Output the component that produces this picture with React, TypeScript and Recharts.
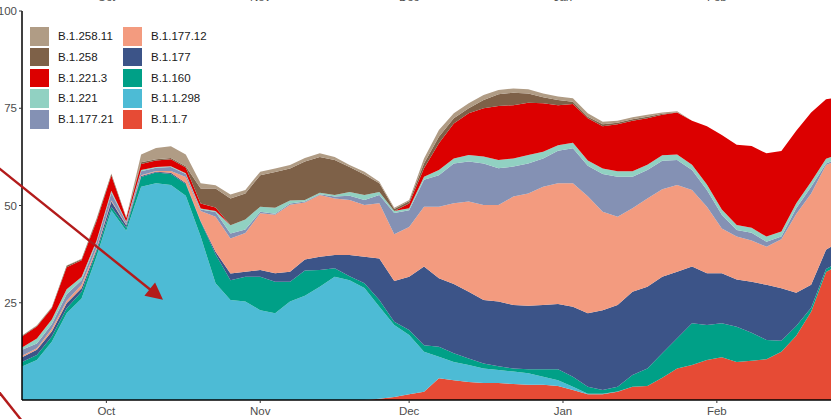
import { AreaChart, Area, XAxis, YAxis, Legend } from "recharts";

const FONT = '"Liberation Sans", Arial, sans-serif';

// sample dates (every 3 days), 2020-09-14 .. 2021-02-24
const dates = [
  "2020-09-14", "2020-09-17", "2020-09-20", "2020-09-23", "2020-09-26", "2020-09-29",
  "2020-10-02", "2020-10-05", "2020-10-08", "2020-10-11", "2020-10-14", "2020-10-17",
  "2020-10-20", "2020-10-23", "2020-10-26", "2020-10-29", "2020-11-01", "2020-11-04",
  "2020-11-07", "2020-11-10", "2020-11-13", "2020-11-16", "2020-11-19", "2020-11-22",
  "2020-11-25", "2020-11-28", "2020-12-01", "2020-12-04", "2020-12-07", "2020-12-10",
  "2020-12-13", "2020-12-16", "2020-12-19", "2020-12-22", "2020-12-25", "2020-12-28",
  "2020-12-31", "2021-01-03", "2021-01-06", "2021-01-09", "2021-01-12", "2021-01-15",
  "2021-01-18", "2021-01-21", "2021-01-24", "2021-01-27", "2021-01-30", "2021-02-02",
  "2021-02-05", "2021-02-08", "2021-02-11", "2021-02-14", "2021-02-17", "2021-02-20",
  "2021-02-23", "2021-02-24",
];

const monthStarts = ["2020-10-01", "2020-11-01", "2020-12-01", "2021-01-01", "2021-02-01"];
const monthLabels = ["Oct", "Nov", "Dec", "Jan", "Feb"];
const yTicks = [25, 50, 75, 100];

// share of sequences per lineage (%), bottom of the stack first
const b117 = [
  0, 0, 0, 0, 0, 0, 0, 0, 0, 0, 0, 0, 0, 0, 0, 0, 0, 0, 0, 0, 0, 0, 0, 0,
  0.3, 0.8, 1.5, 2.1, 5.6, 5.1, 4.6, 4.4, 4.4, 4.1, 3.9, 3.9, 3.6, 2.6, 1.5, 1.5,
  2.1, 3.4, 3.6, 5.7, 8.1, 9.0, 10.3, 11.0, 9.8, 10.1, 10.5, 12.4, 16.5, 22.7, 32.9, 33.6,
];
const b11298 = [
  8.6, 10.3, 15.0, 22.3, 26.1, 36.8, 48.8, 43.5, 54.8, 55.7, 55.3, 52.5, 42.0, 30.0,
  25.7, 25.3, 23.1, 22.3, 25.3, 26.8, 29.1, 31.7, 30.8, 28.8, 23.7, 18.5, 15.2, 10.3,
  5.5, 4.7, 4.4, 3.7, 3.3, 3.2, 3.0, 2.1, 1.5, 0.8, 0.1, 0.1, 0.1, 0, 0, 0, 0, 0, 0,
  0, 0, 0, 0, 0, 0, 0, 0, 0,
];
const b160 = [
  1.2, 1.3, 1.3, 1.3, 1.7, 1.3, 0.9, 0.8, 2.5, 2.8, 2.8, 3.0, 3.8, 7.5, 5.1, 6.4,
  8.6, 8.1, 5.1, 6.5, 4.3, 2.2, 1.0, 1.2, 1.7, 0.8, 1.3, 1.7, 2.6, 2.2, 1.7, 1.3,
  1.0, 0.8, 1.0, 1.9, 2.8, 2.6, 1.8, 1.0, 1.2, 3.0, 4.5, 6.3, 7.8, 10.7, 9.0, 8.7,
  9.0, 7.2, 4.9, 2.8, 2.5, 1.0, 0.8, 0.8,
];
const b177 = [
  1.2, 1.3, 1.3, 1.3, 0.9, 0.5, 1.3, 0.6, 0.3, 0.2, 0.3, 0.3, 0.2, 0.6, 1.7, 1.3,
  1.7, 2.2, 2.6, 2.8, 3.4, 3.4, 5.5, 6.8, 10.7, 10.5, 13.7, 20.2, 17.6, 17.8, 17.1, 16.3,
  16.6, 16.3, 16.3, 16.5, 16.8, 18.0, 18.9, 20.5, 21.0, 21.4, 21.0, 19.7, 17.1, 14.6, 13.3, 12.9,
  12.2, 13.1, 14.2, 13.5, 8.6, 5.9, 4.9, 5.0,
];
const b17712 = [
  0.4, 0.4, 0.7, 0.6, 0.9, 0.5, 0.3, 0.2, 0.2, 0.2, 0.5, 1.5, 2.6, 9.0, 9.0, 9.9,
  14.6, 15.0, 17.2, 14.7, 15.9, 14.5, 14.1, 13.3, 14.2, 12.0, 12.8, 15.4, 18.4, 20.8, 23.2, 24.4,
  24.8, 27.9, 28.9, 30.4, 31.0, 31.7, 30.1, 25.3, 22.7, 21.5, 22.7, 22.5, 22.3, 19.7, 17.1, 11.5,
  11.0, 10.6, 9.8, 12.6, 20.2, 23.5, 21.8, 21.5,
];
const b17721 = [
  1.5, 1.2, 1.2, 1.7, 1.2, 1.3, 2.0, 0.6, 1.0, 0.8, 1.0, 0.8, 0.4, 1.2, 1.3, 0.9,
  0.4, 0.3, 0.3, 0.2, 0.2, 0.5, 1.1, 1.3, 2.1, 5.5, 4.3, 6.9, 8.1, 10.2, 10.3, 10.7,
  9.5, 7.7, 7.7, 7.3, 8.4, 9.0, 7.8, 9.7, 10.3, 8.1, 7.3, 7.3, 6.4, 5.1, 4.3, 3.5,
  1.7, 2.0, 1.3, 0.7, 1.5, 1.7, 0.4, 0.4,
];
const b221 = [
  0.6, 1.3, 1.2, 1.3, 0.8, 0.5, 0.5, 0.2, 0.3, 0.2, 0.2, 0.2, 0.2, 0.3, 2.1, 2.6,
  1.3, 1.5, 0.8, 0.4, 0.4, 0.4, 1.0, 1.3, 0.8, 0.5, 0.5, 0.8, 1.3, 1.3, 1.7, 1.8,
  2.1, 2.1, 2.2, 1.7, 1.4, 1.4, 1.4, 1.4, 1.4, 1.4, 1.4, 1.4, 1.4, 1.4, 1.4, 1.4,
  1.3, 1.3, 1.3, 1.3, 1.3, 1.3, 1.2, 1.2,
];
const b2213 = [
  2.8, 3.1, 2.9, 5.6, 4.3, 5.0, 3.9, 0.8, 1.6, 1.7, 1.8, 1.5, 1.3, 0.9, 0, 0,
  0, 0, 0, 0, 0, 0, 0, 0, 0, 0, 1.2, 2.2, 6.9, 9.0, 10.7, 12.4,
  13.9, 13.7, 13.4, 12.5, 10.3, 10.0, 10.8, 10.9, 12.1, 13.0, 11.9, 10.4, 10.8, 11.3, 15.0, 19.1,
  20.6, 21.0, 21.4, 20.7, 18.6, 17.8, 15.3, 15.0,
];
const b258 = [
  0.2, 0.2, 0.2, 0.4, 0.3, 0.5, 0.4, 0.2, 0.4, 0.3, 0.3, 0.3, 3.9, 4.9, 6.9, 6.7,
  8.1, 9.2, 8.2, 9.9, 9.2, 9.0, 6.4, 5.3, 2.2, 0.5, 0.6, 1.2, 1.7, 1.3, 1.3, 2.1,
  3.0, 3.2, 2.4, 1.5, 1.3, 0.6, 0.4, 0.5, 0.4, 0.4, 0.4, 0.3, 0.1, 0, 0, 0,
  0, 0, 0, 0, 0, 0, 0, 0,
];
const b25811 = [
  0.1, 0.1, 0.1, 0.1, 0.1, 0.2, 0.1, 0.1, 2.0, 2.9, 3.0, 3.0, 1.3, 0.8, 1.0, 0.9,
  0.9, 0.9, 0.9, 0.9, 0.9, 0.8, 0.5, 0.7, 0.4, 0.3, 0.3, 1.3, 1.7, 1.3, 1.3, 1.3,
  1.1, 1.1, 1.1, 1.0, 0.9, 0.9, 0.9, 0.6, 0.5, 0.5, 0.5, 0.3, 0.2, 0, 0, 0,
  0, 0, 0, 0, 0, 0, 0, 0,
];

const SERIES = [
  { name: "B.1.1.7", color: "#E64B35", values: b117 },
  { name: "B.1.1.298", color: "#4DBBD5", values: b11298 },
  { name: "B.1.160", color: "#00A087", values: b160 },
  { name: "B.1.177", color: "#3C5488", values: b177 },
  { name: "B.1.177.12", color: "#F39B7F", values: b17712 },
  { name: "B.1.177.21", color: "#8491B4", values: b17721 },
  { name: "B.1.221", color: "#91D1C2", values: b221 },
  { name: "B.1.221.3", color: "#DC0000", values: b2213 },
  { name: "B.1.258", color: "#7E6148", values: b258 },
  { name: "B.1.258.11", color: "#B09C85", values: b25811 },
];

// legend reads top of stack first, two columns
const legendCols = [
  ["B.1.258.11", "B.1.258", "B.1.221.3", "B.1.221", "B.1.177.21"],
  ["B.1.177.12", "B.1.177", "B.1.160", "B.1.1.298", "B.1.1.7"],
];

const ts = (d: string) => Date.parse(d + "T00:00:00Z");
const tickTs = monthStarts.map(ts);
const fmtMonth = (v: number) => monthLabels[tickTs.indexOf(v)] ?? "";

const data = dates.map((d, i) => {
  const row: Record<string, number> = { t: ts(d) };
  for (const s of SERIES) row[s.name] = s.values[i];
  return row;
});

function colorOf(name: string) {
  return SERIES.find((s) => s.name === name)?.color ?? "#999";
}

function LegendBox() {
  return (
    <div style={{ display: "flex", fontFamily: FONT, fontSize: 11.5, color: "#1a1a1a" }}>
      {legendCols.map((col, ci) => (
        <div key={ci} style={{ width: 93 }}>
          {col.map((name) => (
            <div key={name} style={{ display: "flex", alignItems: "flex-start", height: 20.75 }}>
              <span
                style={{
                  width: 18.5,
                  height: 18.5,
                  background: colorOf(name),
                  display: "inline-block",
                  marginRight: 9.5,
                }}
              />
              <span style={{ lineHeight: "18.5px" }}>{name}</span>
            </div>
          ))}
        </div>
      ))}
    </div>
  );
}

// annotation arrows laid over the chart
function arrowHead(x: number, y: number, dx: number, dy: number, len: number, half: number) {
  const n = Math.hypot(dx, dy);
  const ux = dx / n;
  const uy = dy / n;
  const bx = x - ux * len;
  const by = y - uy * len;
  return `${x},${y} ${bx - uy * half},${by + ux * half} ${bx + uy * half},${by - ux * half}`;
}

function Annotations() {
  const red = "#b31b1b";
  return (
    <svg
      width={831}
      height={419}
      style={{ position: "absolute", left: 0, top: 0, pointerEvents: "none" }}
    >
      <line x1={-10} y1={160.9} x2={152} y2={291} stroke={red} strokeWidth={2.4} />
      <polygon points={arrowHead(163, 299.7, 1, 0.803, 17, 8.5)} fill={red} />
      <line x1={-5} y1={387} x2={30} y2={431} stroke={red} strokeWidth={2.4} />
    </svg>
  );
}

export default function App() {
  return (
    <div style={{ position: "absolute", left: 0, top: 0, width: 831, height: 419, background: "#fff" }}>
      <AreaChart width={831} height={419} data={data} margin={{ top: 0, right: 0, bottom: 0, left: 0 }}>
        <XAxis
          xAxisId="top"
          orientation="top"
          dataKey="t"
          type="number"
          domain={[ts(dates[0]), ts(dates[dates.length - 1])]}
          ticks={tickTs}
          tickFormatter={fmtMonth}
          height={11}
          axisLine={false}
          tickLine={false}
          tickSize={0}
          tickMargin={10.5}
          tick={{ fill: "#4d4d4d", fontSize: 11.5, fontFamily: FONT }}
          allowDataOverflow
        />
        <XAxis
          xAxisId="b"
          dataKey="t"
          type="number"
          domain={[ts(dates[0]), ts(dates[dates.length - 1])]}
          ticks={tickTs}
          tickFormatter={fmtMonth}
          height={19}
          tickSize={3}
          tickMargin={4}
          axisLine={{ stroke: "#000", strokeWidth: 1.5 }}
          tickLine={{ stroke: "#333" }}
          tick={{ fill: "#4d4d4d", fontSize: 11.5, fontFamily: FONT }}
          allowDataOverflow
        />
        <YAxis
          width={22}
          type="number"
          domain={[0, 100]}
          ticks={yTicks}
          tickSize={3}
          tickMargin={2}
          axisLine={{ stroke: "#000", strokeWidth: 1.5 }}
          tickLine={{ stroke: "#333" }}
          tick={{ fill: "#4d4d4d", fontSize: 11.5, fontFamily: FONT }}
          allowDataOverflow
        />
        <Legend
          layout="horizontal"
          align="center"
          verticalAlign="middle"
          content={() => <LegendBox />}
          wrapperStyle={{ top: 27, left: 30, width: 200, height: 110 }}
        />
        {SERIES.map((s) => (
          <Area
            key={s.name}
            xAxisId="b"
            type="linear"
            dataKey={s.name}
            stackId="1"
            fill={s.color}
            fillOpacity={1}
            stroke="none"
            isAnimationActive={false}
            dot={false}
            activeDot={false}
          />
        ))}
      </AreaChart>
      <Annotations />
    </div>
  );
}
